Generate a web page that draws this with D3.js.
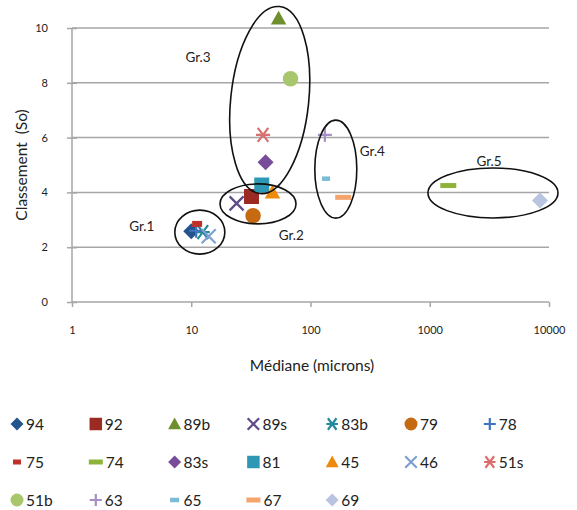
<!DOCTYPE html>
<html>
<head>
<meta charset="utf-8">
<script src="https://cdn.jsdelivr.net/npm/d3@7"></script>
<style>
  html, body { margin: 0; padding: 0; background: #fff; }
  svg { display: block; font-family: Lato, "Open Sans", sans-serif; }
  text { fill: #222; }
</style>
</head>
<body>
<svg id="chart" width="577" height="510"></svg>
<script>
// Samples: name, median grain size (microns), sorting coefficient (So)
const names   = ["94", "92", "89b", "89s", "83b", "79", "78", "75", "74", "83s", "81", "45", "46", "51s", "51b", "63", "65", "67", "69"];
const medians = [10, 32, 54, 24, 12.5, 33, 11, 11.2, 1430, 42, 39, 48, 14, 40, 68, 132, 135, 188, 8400];
const sorting = [2.58, 3.85, 10.35, 3.6, 2.55, 3.15, 2.6, 2.85, 4.25, 5.1, 4.27, 4.0, 2.4, 6.1, 8.15, 6.1, 4.5, 3.82, 3.7];
const shapes  = ["diamond", "square", "triangle", "cross", "star", "circle", "plus", "dashS", "dashL", "diamond", "square", "triangle", "cross", "star", "circle", "plus", "dashM", "dashL", "diamond"];
const colors  = ["#23548E", "#9B2A22", "#6F8F2E", "#5E4A86", "#23899B", "#C56A12", "#3E77C0", "#C0302A", "#8DB33A", "#774C9A", "#2E98B4", "#EE8A0A", "#7F9FD2", "#D9706F", "#A8C66C", "#A58FC6", "#78BCD6", "#F4A46C", "#B9C4E0"];

// Axis ticks
const xTicks = [1, 10, 100, 1000, 10000];
const yTicks = [0, 2, 4, 6, 8, 10];

// Group outlines: centre (median, So), radii in px, tilt in degrees
const groupNames  = ["Gr.1", "Gr.2", "Gr.3", "Gr.4", "Gr.5"];
const groupCx     = [11.8, 36.3, 45.5, 163, 3390];
const groupCy     = [2.55, 3.58, 7.37, 4.85, 3.98];
const groupRx     = [25, 38, 39, 21, 65];
const groupRy     = [22, 20, 94, 49, 25];
const groupTilt   = [0, 0, 6, 0, 0];
const groupLabelX = [3.85, 69, 11.4, 330, 3140];
const groupLabelY = [2.7, 2.4, 8.9, 5.45, 5.1];

const svg = d3.select("#chart");
const x = d3.scaleLog().domain([1, 10000]).range([72, 549]);
const y = d3.scaleLinear().domain([0, 10]).range([302, 28]);

const grid = "#A6A6A6";

// horizontal gridlines
svg.append("g").selectAll("line").data(yTicks.filter(d => d > 0)).join("line")
  .attr("x1", x(1)).attr("x2", x(10000))
  .attr("y1", d => y(d)).attr("y2", d => y(d))
  .attr("stroke", grid).attr("stroke-width", 1.5);

// axes
const yAxis = svg.append("g").attr("transform", `translate(${x(1)},0)`)
  .call(d3.axisLeft(y).tickValues(yTicks).tickSize(5).tickPadding(19).tickFormat(d3.format("d")));
yAxis.selectAll(".tick line").attr("x2", 5).attr("x1", -5);
const xAxis = svg.append("g").attr("transform", `translate(0,${y(0)})`)
  .call(d3.axisBottom(x).tickValues(xTicks).tickSize(5).tickPadding(19).tickFormat(d3.format("d")));
[yAxis, xAxis].forEach(a => {
  a.select(".domain").attr("stroke", grid).attr("stroke-width", 1.5);
  a.selectAll(".tick line").attr("stroke", grid).attr("stroke-width", 1.5);
  a.selectAll(".tick text").attr("font-size", 11).attr("fill", "#222")
    .attr("font-family", "Lato, 'Open Sans', sans-serif");
});
yAxis.select(".domain").attr("d", `M0,${y(0)}V${y(10)}`);
xAxis.select(".domain").attr("d", `M${x(1)},0H${x(10000)}`);

// axis titles
svg.append("text").attr("x", 312).attr("y", 371).attr("text-anchor", "middle")
  .attr("font-size", 15.5).text("Médiane (microns)");
svg.append("text").attr("transform", "translate(27,165) rotate(-90)").attr("text-anchor", "middle")
  .attr("font-size", 15.5).text("Classement\u00A0 (So)");

// marker path builder; s = overall size in px
function markerPath(shape, s) {
  const h = s / 2;
  switch (shape) {
    case "diamond": return `M0,${-h}L${h},0L0,${h}L${-h},0Z`;
    case "square": return `M${-h},${-h}H${h}V${h}H${-h}Z`;
    case "triangle": return `M0,${-h}L${h},${h * 0.8}L${-h},${h * 0.8}Z`;
    case "circle": return d3.symbol(d3.symbolCircle, Math.PI * h * h)();
    case "cross": return `M${-h},${-h}L${h},${h}M${h},${-h}L${-h},${h}`;
    case "plus": return `M${-h},0H${h}M0,${-h}V${h}`;
    case "star": return `M${-h * 0.75},${-h}L${h * 0.75},${h}M${h * 0.75},${-h}L${-h * 0.75},${h}M${-h},0H${h}`;
  }
  return "";
}
const dashDims = { dashS: [10, 6], dashM: [8, 4.5], dashL: [16, 5] };
const legendDash = { dashS: [8, 5], dashM: [9, 4.5], dashL: [14, 5] };
const stroked = s => s === "cross" || s === "plus" || s === "star";

function drawMarker(g, shape, color, s, dashes) {
  if (shape.startsWith("dash")) {
    const [w, hh] = dashes[shape];
    g.append("rect").attr("x", -w / 2).attr("y", -hh / 2).attr("width", w).attr("height", hh).attr("fill", color);
  } else if (stroked(shape)) {
    g.append("path").attr("d", markerPath(shape, s)).attr("fill", "none")
      .attr("stroke", color).attr("stroke-width", 2.2);
  } else {
    g.append("path").attr("d", markerPath(shape, s)).attr("fill", color);
  }
}

const sizeOf = { diamond: 16, square: 15, triangle: 15.5, circle: 15.5, cross: 14, plus: 14, star: 14 };

// data points
const pts = svg.append("g");
names.forEach((n, i) => {
  const g = pts.append("g").attr("transform", `translate(${x(medians[i])},${y(sorting[i])})`);
  drawMarker(g, shapes[i], colors[i], sizeOf[shapes[i]], dashDims);
});

// group outlines and labels
const grp = svg.append("g");
groupNames.forEach((n, i) => {
  grp.append("ellipse")
    .attr("transform", `translate(${x(groupCx[i])},${y(groupCy[i])}) rotate(${groupTilt[i]})`)
    .attr("rx", groupRx[i]).attr("ry", groupRy[i])
    .attr("fill", "none").attr("stroke", "#111").attr("stroke-width", 1.6);
  grp.append("text").attr("x", x(groupLabelX[i])).attr("y", y(groupLabelY[i]))
    .attr("text-anchor", "middle").attr("dominant-baseline", "middle")
    .attr("font-size", 13.5).text(n);
});

// legend: 7 columns
const leg = svg.append("g");
const legSize = { diamond: 13, square: 12.5, triangle: 13, circle: 13, cross: 11.5, plus: 12, star: 11.5 };
names.forEach((n, i) => {
  const col = i % 7, row = Math.floor(i / 7);
  const cx = 17 + col * 78.8, cy = 424 + row * 38;
  const g = leg.append("g").attr("transform", `translate(${cx},${cy})`);
  drawMarker(g, shapes[i], colors[i], legSize[shapes[i]], legendDash);
  leg.append("text").attr("x", cx + (shapes[i] === "dashL" ? 10 : 9)).attr("y", cy + 5.5)
    .attr("font-size", 15.5).text(n);
});
</script>
</body>
</html>
